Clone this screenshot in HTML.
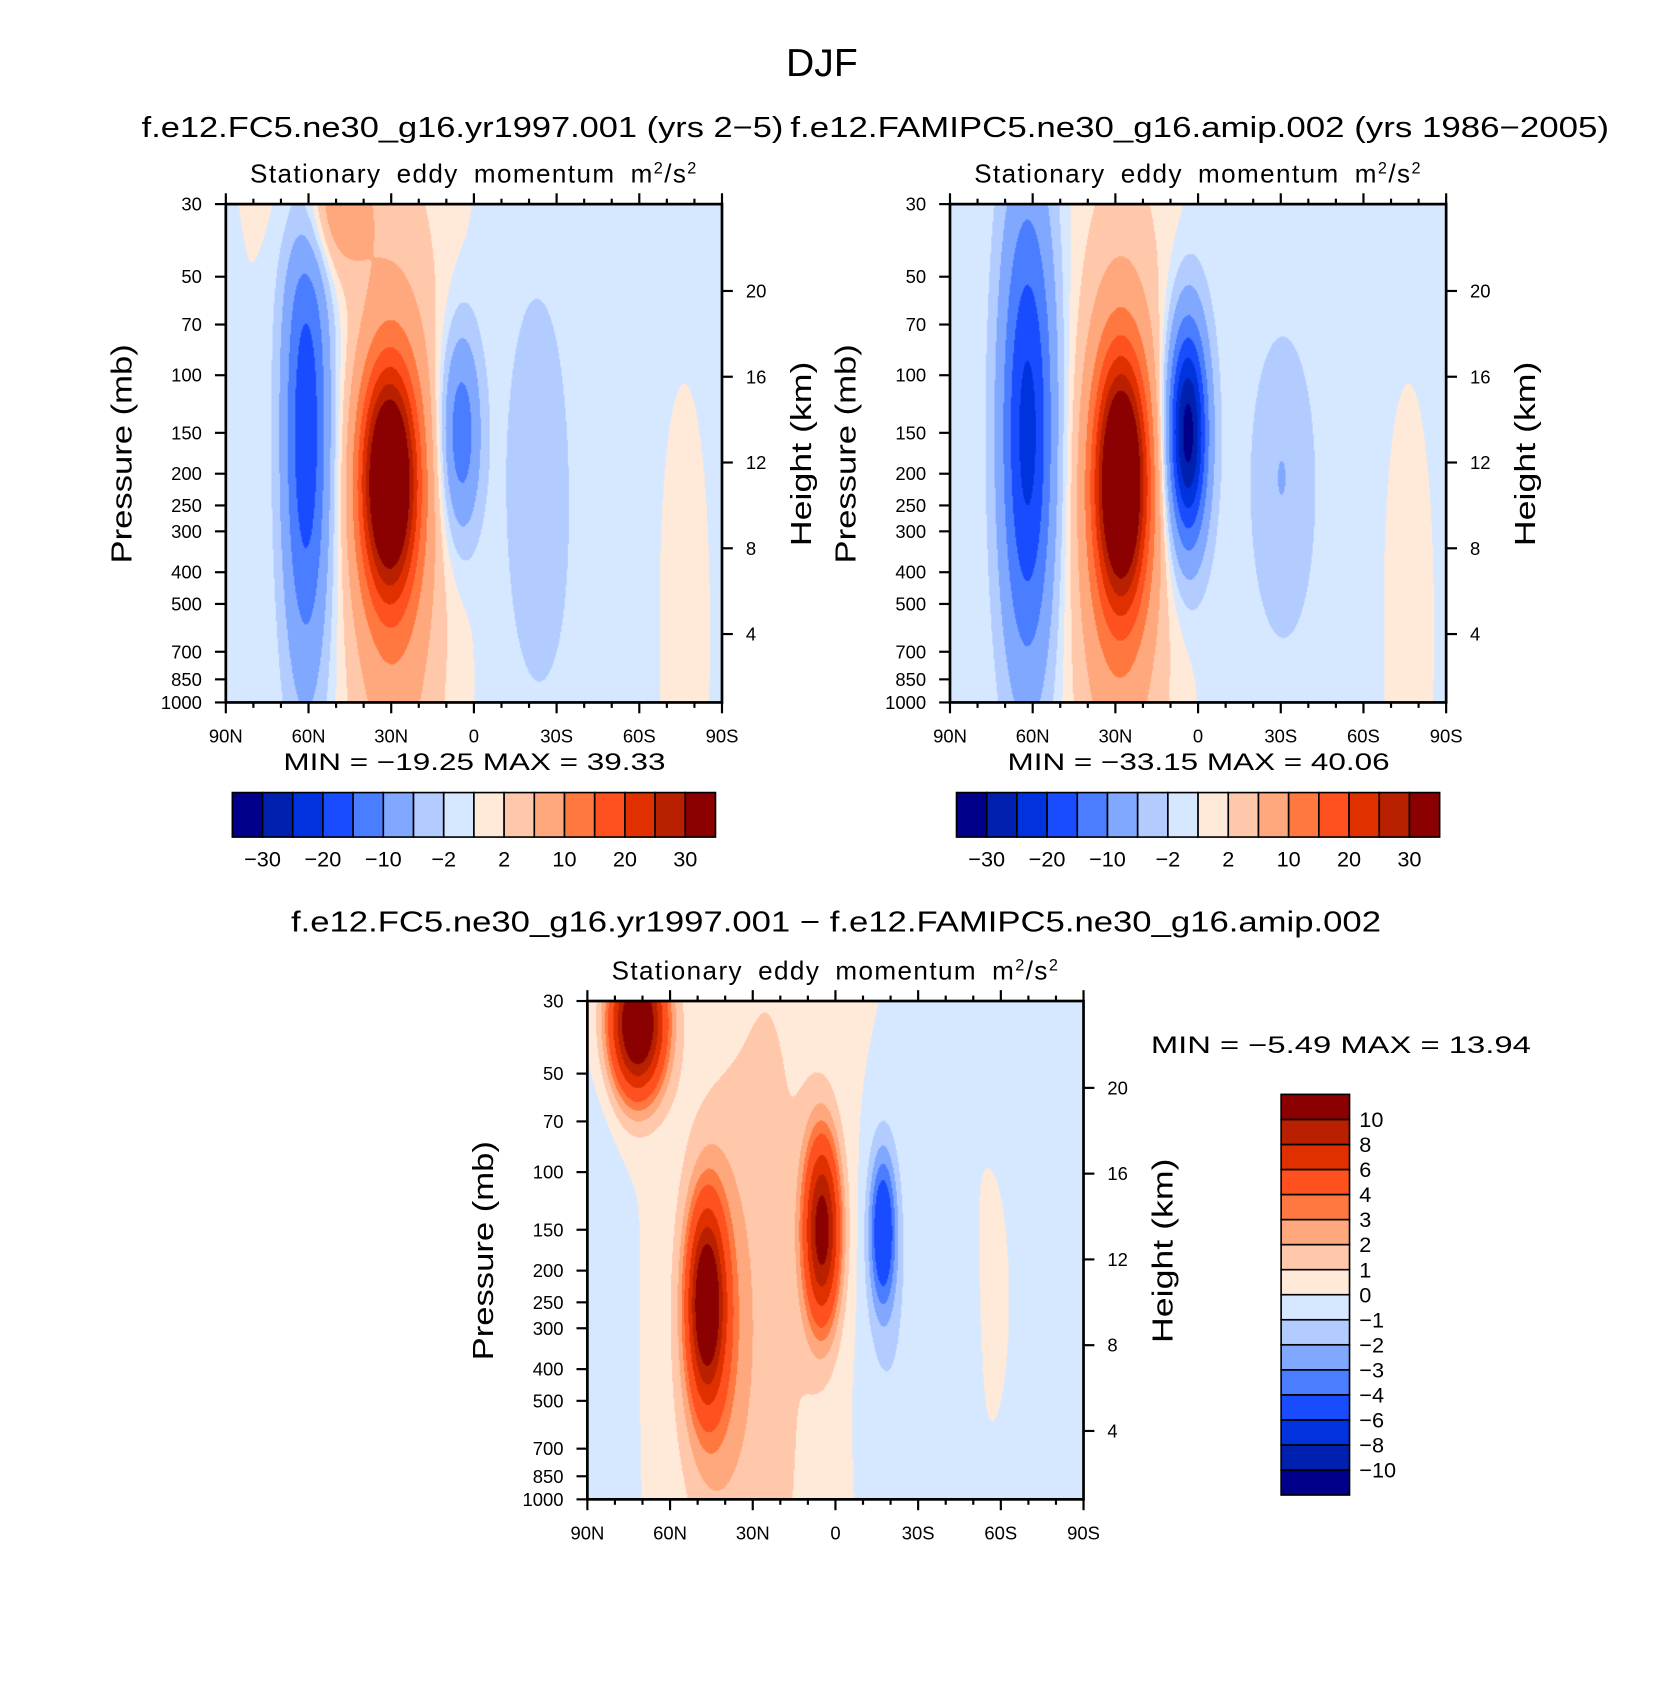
<!DOCTYPE html>
<html><head><meta charset="utf-8"><style>
body{margin:0;background:#fff;width:1672px;height:1699px;position:relative;overflow:hidden;font-family:"Liberation Sans",sans-serif}
#wrap{position:absolute;left:0;top:0;width:1540px;height:1565px;transform:scale(1.0857);transform-origin:0 0}
canvas{position:absolute}
svg{position:absolute;left:0;top:0}
</style></head><body>
<div id="wrap">
<canvas id="c0" style="left:208px;top:188px" width="457" height="459"></canvas>
<canvas id="c1" style="left:875px;top:188px" width="457" height="459"></canvas>
<canvas id="c2" style="left:541px;top:922px" width="457" height="459"></canvas>
<svg id="s" width="1540" height="1565" font-family="Liberation Sans, sans-serif"></svg>
</div>
<script>
const colors=["#00008a","#0020b0","#0033dd","#1a4cff","#4a7dff","#80a8ff","#b3ccff","#d6e8ff","#ffeada","#ffc8aa","#ffa87d","#ff7840","#ff5020","#e03000","#b82000","#8b0000"];
const levelsTop=[-30,-25,-20,-15,-10,-5,-2,0,2,5,10,15,20,25,30];
const levelsDiff=[-10,-8,-6,-4,-3,-2,-1,0,1,2,3,4,6,8,10];
const latTicks=[90,60,30,0,-30,-60,-90];
const latLabels=["90N","60N","30N","0","30S","60S","90S"];
const pTicks=[30,50,70,100,150,200,250,300,400,500,700,850,1000];
const kmTicks=[4,8,12,16,20];
// blobs: lat, pressure, lat width, lnp width, amplitude
const leftLat=[61,31,30,5,-22,52,-50,22,-75,-30,88];
const leftP=[150,210,300,150,200,30,200,300,600,800,400];
const leftWL=[6,7,11,5,7,10,40,14,8,20,4];
const leftWP=[1.2,0.55,1.3,0.5,0.8,0.35,10,3,1.5,1,1];
const leftAmp=[-19,39,8,-14,-4,9,-1,1.8,1.6,-0.5,-1];
const rightLat=[62,28,30,4,-30,-50,22,-75,-30,88];
const rightP=[150,210,300,150,200,200,300,600,800,400];
const rightWL=[7,6.5,11,5,7,40,14,8,20,4];
const rightWP=[1.2,0.6,1.3,0.55,0.6,10,3,1.5,1,1];
const rightAmp=[-22,40,8,-33,-4,-1,1.8,1.6,-0.5,-1];
const diffLat=[72,47,45,5,-17,25,-70,-45,-58,86,-20];
const diffP=[35,250,300,150,150,300,300,300,250,500,400];
const diffWL=[7,4.5,9,4.5,3.5,15,8,8,4,6,8];
const diffWP=[0.35,0.45,0.9,0.45,0.4,3,3,0.5,0.5,2,1];
const diffAmp=[14,11,3,11,-5.5,1.3,-0.8,-0.6,1.2,-1.0,-0.8];
const W=457,H=459,LP=Math.log(1000/30);
function yP(p){return (Math.log(p/30)/LP)*H;}
function xL(lat){return (90-lat)/180*W;}
function field(lat,p,A){let v=0;const lp=Math.log(p);for(let i=0;i<A[0].length;i++){const dl=(lat-A[0][i])/A[2][i],dp=(lp-Math.log(A[1][i]))/A[3][i];v+=A[4][i]*Math.exp(-0.5*(dl*dl+dp*dp));}return v;}
function hex(c){return [parseInt(c.substr(1,2),16),parseInt(c.substr(3,2),16),parseInt(c.substr(5,2),16)];}
const rgb=colors.map(hex);
function draw(id,A,lev){const cv=document.getElementById(id),ctx=cv.getContext('2d'),img=ctx.createImageData(W,H);
for(let y=0;y<H;y++){const p=30*Math.exp(y/H*LP);for(let x=0;x<W;x++){const lat=90-x/W*180;const v=field(lat,p,A);let k=0;while(k<lev.length&&v>=lev[k])k++;const c=rgb[k],o=(y*W+x)*4;img.data[o]=c[0];img.data[o+1]=c[1];img.data[o+2]=c[2];img.data[o+3]=255;}}
ctx.putImageData(img,0,0);}
draw('c0',[leftLat,leftP,leftWL,leftWP,leftAmp],levelsTop);
draw('c1',[rightLat,rightP,rightWL,rightWP,rightAmp],levelsTop);
draw('c2',[diffLat,diffP,diffWL,diffWP,diffAmp],levelsDiff);
const s=document.getElementById('s'),NS="http://www.w3.org/2000/svg";
function el(t,a,txt){const e=document.createElementNS(NS,t);for(const k in a)e.setAttribute(k,a[k]);if(txt!==undefined)e.textContent=txt;s.appendChild(e);return e;}
function text(x,y,str,size,anchor,name,rot,len){const e=el('text',{x:x,y:y,'font-size':size,'text-anchor':anchor||'middle',fill:'#000'},str);


if(len){e.setAttribute('textLength',len);e.setAttribute('lengthAdjust','spacingAndGlyphs');}
if(rot)e.setAttribute('transform','rotate(-90 '+x+' '+y+')');return e;}
function line(x1,y1,x2,y2,w,name){const e=el('line',{x1:x1,y1:y1,x2:x2,y2:y2,stroke:'#000','stroke-width':w});

}
text(757,70,"DJF",36,'middle','figure-title',false,66);
function panel(L,T,title,tx,tlen,pre){
 const f=el('rect',{x:L,y:T,width:W,height:H,fill:'none',stroke:'#000','stroke-width':2.5});
 
 
 if(title)text(tx,126,title,26,'middle',pre+'-title',false,tlen);
 const sub=text(L+W/2,T-20,"",24,'middle',pre+'-subtitle');
 sub.innerHTML='Stationary  eddy  momentum  m<tspan baseline-shift="super" font-size="15">2</tspan>/s<tspan baseline-shift="super" font-size="15">2</tspan>';
 sub.setAttribute('word-spacing','6');
 sub.setAttribute('letter-spacing','1.3');
 for(let lat=90;lat>=-90;lat-=10){const x=L+xL(lat),maj=lat%30===0,len=maj?10:5;
  line(x,T,x,T-len,2,pre+'-top-tick');line(x,T+H,x,T+H+len,2,pre+'-bottom-tick');}
 latTicks.forEach((lat,i)=>text(L+xL(lat),T+H+37,latLabels[i],17,'middle',pre+'-x-tick-label'));
 pTicks.forEach(p=>{const y=T+yP(p);line(L,y,L-10,y,2,pre+'-y-tick');text(L-22,y+6,String(p),17,'end',pre+'-y-tick-label');});
 kmTicks.forEach(k=>{const y=T+80+(20-k)*(316/16);line(L+W,y,L+W+10,y,2,pre+'-km-tick');text(L+W+22,y+6,String(k),17,'start',pre+'-km-tick-label');});
 text(L-87,T+230,"Pressure  (mb)",26,'middle',pre+'-y-axis-title',true,202);
 text(L+W+82,T+230,"Height  (km)",26,'middle',pre+'-km-axis-title',true,170);
}
panel(208,188,"f.e12.FC5.ne30_g16.yr1997.001  (yrs  2−5)",426,591,'left');
panel(875,188,"f.e12.FAMIPC5.ne30_g16.amip.002  (yrs  1986−2005)",1105,754,'right');
panel(541,922,null,0,0,'diff');
text(770,858,"f.e12.FC5.ne30_g16.yr1997.001  −  f.e12.FAMIPC5.ne30_g16.amip.002",26,'middle','diff-title',false,1004);
text(437,709,"MIN  =  −19.25    MAX  =    39.33",22,'middle','left-minmax',false,352);
text(1104,709,"MIN  =  −33.15    MAX  =    40.06",22,'middle','right-minmax',false,352);
text(1235,970,"MIN  =    −5.49    MAX  =    13.94",22,'middle','diff-minmax',false,350);
function hbar(L,pre){const w=445/16;colors.forEach((c,i)=>{const r=el('rect',{x:L+i*w,y:730,width:w,height:41,fill:c,stroke:'#000','stroke-width':1.5});
 
 });
 levelsTop.forEach((v,i)=>{if(i%2===0)text(L+(i+1)*w,798,(v<0?'−':'')+Math.abs(v),20,'middle',pre+'-colorbar-label');});}
hbar(214,'left');hbar(881,'right');
const bh=369/16;colors.forEach((c,i)=>{const r=el('rect',{x:1180,y:1008+(15-i)*bh,width:63,height:bh,fill:c,stroke:'#000','stroke-width':1.5});
 
 });
levelsDiff.forEach((v,i)=>{text(1252,1008+(15-i)*bh+7,(v<0?'−':'')+Math.abs(v),20,'start','diff-colorbar-label');});
</script>
</body></html>
